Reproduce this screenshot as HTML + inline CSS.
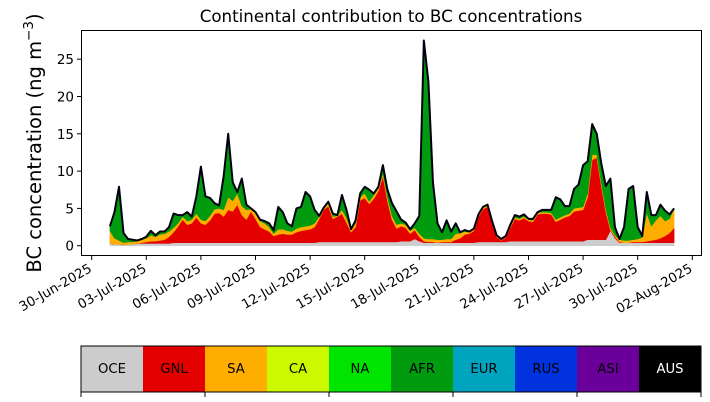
<!DOCTYPE html>
<html><head><meta charset="utf-8"><style>
body{margin:0;background:#fff;}
svg{display:block;font-family:"DejaVu Sans","Liberation Sans",sans-serif;}
</style></head><body>
<svg id="chart" width="710" height="402" viewBox="0 0 710 402" xmlns="http://www.w3.org/2000/svg">
<text x="391" y="22" font-size="16.7" text-anchor="middle">Continental contribution to BC concentrations</text>
<text transform="translate(41,143) rotate(-90)" font-size="19.5" text-anchor="middle">BC concentration (ng m<tspan dy="-8" font-size="13.5">−3</tspan><tspan dy="8">)</tspan></text>
<g id="plot"></g>
<rect x="81.5" y="30.5" width="620" height="225" fill="none" stroke="#000" stroke-width="1"/>
<g id="axes"></g>
<g id="cbar"></g>
</svg>
<script>
const categories = ["OCE","GNL","SA","CA","NA","AFR","EUR","RUS","ASI","AUS"];
const colors = ["#cccccc","#e50000","#ffae00","#ccf900","#00e500","#009b0f","#00a4bf","#0033dd","#6a0099","#000000"];
const startDay = 1;      // days after 30-Jun-2025 00:00
const stepDays = 0.25;   // 6-hourly
const oce = [.3,.2,.2,.1,.2,.2,.3,.3,.3,.3,.3,.3,.3,.3,.4,.4,.4,.4,.4,.4,.4,.4,.4,.4,.4,.4,.4,.4,.4,.4,.4,.4,.4,.4,.4,.4,.4,.4,.4,.4,.4,.4,.4,.4,.4,.4,.5,.5,.5,.5,.5,.5,.5,.5,.5,.5,.5,.5,.5,.5,.5,.5,.5,.5,.6,.6,.6,.9,.6,.4,.4,.4,.4,.4,.4,.4,.4,.4,.4,.4,.4,.5,.5,.5,.5,.5,.5,.5,.6,.6,.6,.6,.6,.6,.6,.6,.6,.6,.6,.6,.6,.6,.6,.6,.6,.8,.8,.8,.8,.8,2.0,1.0,.4,.4,.4,.4,.4,.4,.4,.4,.4,.4,.4,.4,.4];
const gnl = [0,0,0,0,0,0,0,.1,.2,.3,.3,.4,.5,.9,1.4,2.2,3.1,2.4,2.6,3.4,2.6,2.4,3.0,3.9,4.0,3.5,4.4,4.2,5.1,3.7,3.1,4.2,3.2,2.1,1.8,1.5,.9,1.1,1.2,1.1,1.1,1.4,1.6,1.7,1.8,2.1,3.1,4.3,4.8,3.1,3.4,3.8,2.6,1.3,2.0,5.6,5.9,5.1,5.8,6.8,8.8,5.5,3.0,1.8,2.0,1.8,1.0,1.2,.6,.2,.1,.1,0,.1,.1,.1,.4,.6,1.1,1.2,1.6,3.4,4.4,4.7,2.6,.7,.2,.6,1.8,3.0,2.8,3.1,2.7,2.6,3.6,3.7,3.7,3.6,2.6,2.9,3.2,3.4,4.0,4.1,4.2,5.7,10.7,11.0,7.2,3.7,.1,.2,.1,0,0,.1,.1,.1,.2,.3,.4,.6,.9,1.3,2.0];
const sa = [1.7,.8,.5,.3,.3,.3,.3,.4,.5,.8,.6,.8,.8,.7,.6,.4,.4,.5,.5,.5,.5,.5,.6,.6,.6,.9,1.7,1.4,1.5,1.2,1.3,.3,.8,.8,.8,.6,.3,.7,.6,.5,.4,.5,.5,.5,.5,.5,.3,.2,.4,.3,.1,.5,.6,.3,.5,.4,.6,.3,.5,.4,.4,.5,.5,.5,.4,.4,.4,.3,.4,.4,.4,.4,.4,.3,.4,.4,.8,.7,.4,.2,.2,.2,.2,.2,.1,.1,.1,.1,.2,.2,.2,.2,.2,.2,.2,.2,.2,.2,.3,.3,.3,.3,.4,.4,.4,.5,.7,.4,.4,.4,.3,.2,.3,.3,.3,.3,.4,.6,3.8,1.9,2.6,3.0,2.0,1.9,2.6];
const afr = [.6,3.5,7.2,1.3,.4,.3,.1,.1,.2,.6,.2,.4,.3,.6,1.9,1.1,.2,1.2,.4,2.3,7.1,3.3,2.4,.8,.4,4.5,8.5,2.5,.2,3.7,.7,.1,.1,.2,.3,.5,.5,3.0,2.3,1.0,.7,2.7,2.7,4.6,3.9,1.8,.1,.1,.2,.4,.1,2.0,1.1,.1,.4,.5,.9,1.6,.2,.2,1.1,1.0,1.7,1.8,.5,.3,.2,.6,2.4,26.5,21.1,7.6,2.2,1.0,2.5,1.0,1.4,.1,.2,.1,.1,.1,.1,.1,.1,.1,.1,.1,.2,.3,.3,.3,.1,.2,.1,.3,.3,.4,3.0,2.4,1.2,1.0,2.6,3.1,5.6,4.3,4.1,2.8,2.6,3.1,6.6,1.1,.1,1.8,6.9,7.2,1.6,.2,2.8,1.5,.7,1.5,1.4,.6,0];
const series = [oce, gnl, sa, afr];
const seriesNames = ["OCE","GNL","SA","AFR"];
const seriesColors = ["#cccccc","#e50000","#ffae00","#009b0f"];
const yTicks = [0,5,10,15,20,25];
const xTickLabels = ["30-Jun-2025","03-Jul-2025","06-Jul-2025","09-Jul-2025","12-Jul-2025","15-Jul-2025","18-Jul-2025","21-Jul-2025","24-Jul-2025","27-Jul-2025","30-Jul-2025","02-Aug-2025"];
const xTickDays = [0,3,6,9,12,15,18,21,24,27,30,33];

const NS = "http://www.w3.org/2000/svg";
const xs = d => 91.7 + 18.2 * d;
const ys = v => 245.7 - 7.46 * v;
function mk(tag, attrs, parent){const e=document.createElementNS(NS,tag);for(const k in attrs)e.setAttribute(k,attrs[k]);parent.appendChild(e);return e;}

const plot = document.getElementById('plot');
const n = oce.length;
const cum = new Array(n).fill(0);
series.forEach((s, si) => {
  const lower = cum.slice();
  for (let i = 0; i < n; i++) cum[i] += s[i];
  let d = "";
  for (let i = 0; i < n; i++) d += (i ? "L" : "M") + xs(startDay + i*stepDays).toFixed(2) + "," + ys(cum[i]).toFixed(2);
  for (let i = n-1; i >= 0; i--) d += "L" + xs(startDay + i*stepDays).toFixed(2) + "," + ys(lower[i]).toFixed(2);
  const p = mk('path', {d: d + "Z", fill: seriesColors[si], stroke: seriesColors[si], 'stroke-width': 0.5}, plot);
  
  
});
let dl = "";
for (let i = 0; i < n; i++) dl += (i ? "L" : "M") + xs(startDay + i*stepDays).toFixed(2) + "," + ys(cum[i]).toFixed(2);
const tl = mk('path', {d: dl, fill: 'none', stroke: '#000010', 'stroke-width': 2, 'stroke-linejoin': 'round'}, plot);



const axes = document.getElementById('axes');
yTicks.forEach(v => {
  const y = ys(v);
  const t = mk('line', {x1: 77, x2: 81.5, y1: y, y2: y, stroke: '#000'}, axes);
  
  
  const lb = mk('text', {x: 74, y: y + 5, 'font-size': 13.5, 'text-anchor': 'end'}, axes);
  lb.textContent = v;
  
  
});
xTickDays.forEach((d, i) => {
  const x = xs(d);
  const t = mk('line', {x1: x, x2: x, y1: 255.5, y2: 260, stroke: '#000'}, axes);
  
  
  const lb = mk('text', {transform: `translate(${x+1},${271}) rotate(-30)`, 'font-size': 13.2, 'text-anchor': 'end'}, axes);
  lb.textContent = xTickLabels[i];
  
  
});

const cb = document.getElementById('cbar');
const w = 62;
categories.forEach((c, i) => {
  const r = mk('rect', {x: 81 + i*w, y: 346, width: w, height: 46, fill: colors[i]}, cb);
  
  
  const t = mk('text', {x: 81 + i*w + w/2, y: 373, 'font-size': 13.2, 'text-anchor': 'middle', fill: c === 'AUS' ? '#fff' : '#000'}, cb);
  t.textContent = c;
  
  
});
const fr = mk('rect', {x: 81, y: 346, width: 620, height: 46, fill: 'none', stroke: '#000', 'stroke-width': 1}, cb);


for (let i = 0; i <= 10; i += 2) {
  const t = mk('line', {x1: 81 + i*w, x2: 81 + i*w, y1: 392, y2: 397, stroke: '#000'}, cb);
  
  
}
</script>
</body></html>
